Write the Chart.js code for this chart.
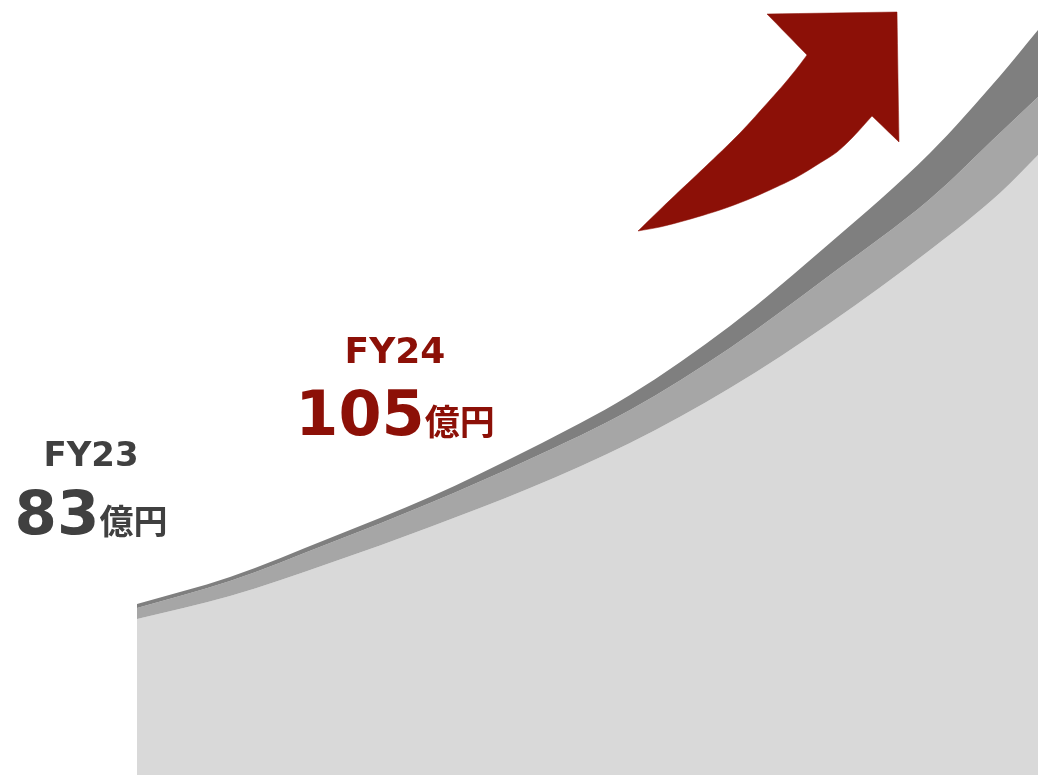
<!DOCTYPE html>
<html>
<head>
<meta charset="utf-8">
<script src="https://cdn.jsdelivr.net/npm/chart.js@4.4.1/dist/chart.umd.min.js"></script>
<style>
html,body{margin:0;padding:0;background:#ffffff;overflow:hidden}
#wrap{width:1038px;height:775px;position:relative}
canvas{display:block}
</style>
</head>
<body>
<div id="wrap"><canvas id="c" width="1038" height="775"></canvas></div>
<script>
// Horizontal sample positions of the growth curve
const curveX = [137, 230, 330, 430, 530, 630, 730, 830, 930, 1000, 1038];
// Heights of the three band edges (dark top, mid top, light top)
const darkTop  = [171, 198, 237, 278, 326, 380, 449, 532, 622, 699, 745];
const midTop   = [167, 194, 232, 272, 316, 365, 427, 500, 576, 642, 678];
const lightTop = [156, 179, 212, 248, 287, 332, 387, 452, 525, 582, 620];
// Arrow outline (corner points repeated so they stay sharp)
const arrowX = [638, 638, 670, 705, 740, 770, 785, 798, 807, 807, 767, 767, 897, 897, 899, 899, 872, 872, 853, 837, 820, 797, 770, 747, 720, 687, 660, 638];
const arrowY = [544, 544, 575, 608, 642, 675, 692, 708, 720, 720, 761, 761, 763, 763, 633, 633, 659, 659, 638, 623, 612, 598, 585, 575, 565, 555, 548, 544];
// Labels
const periods = ['FY23', 'FY24'];
const values = [83, 105];
const unit = '億円';

const pts = (xs, ys) => xs.map((x, i) => ({x: x, y: ys[i]}));

const labelStyle = [
  {cx: 91, periodBase: 466, valueBase: 534, periodSize: 34, valueSize: 61, unitSize: 34, color: '#404040'},
  {cx: 395, periodBase: 363, valueBase: 435, periodSize: 36, valueSize: 62, unitSize: 35, color: '#8c1007'}
];

const labelPlugin = {
  id: 'labels',
  afterDraw(chart) {
    const ctx = chart.ctx;
    ctx.save();
    ctx.textBaseline = 'alphabetic';
    periods.forEach((p, i) => {
      const s = labelStyle[i];
      ctx.fillStyle = s.color;
      ctx.font = 'bold ' + s.periodSize + 'px "DejaVu Sans", Verdana, sans-serif';
      ctx.textAlign = 'center';
      ctx.fillText(p, s.cx, s.periodBase);
      const vText = String(values[i]);
      ctx.font = 'bold ' + s.valueSize + 'px "DejaVu Sans", Verdana, sans-serif';
      const w1 = ctx.measureText(vText).width;
      ctx.font = 'bold ' + s.unitSize + 'px "Noto Sans CJK JP", sans-serif';
      const w2 = ctx.measureText(unit).width;
      const x0 = s.cx - (w1 + w2) / 2;
      ctx.textAlign = 'left';
      ctx.font = 'bold ' + s.valueSize + 'px "DejaVu Sans", Verdana, sans-serif';
      ctx.fillText(vText, x0, s.valueBase);
      ctx.font = 'bold ' + s.unitSize + 'px "Noto Sans CJK JP", sans-serif';
      ctx.fillText(unit, x0 + w1, s.valueBase);
    });
    ctx.restore();
  }
};

new Chart(document.getElementById('c'), {
  type: 'line',
  data: {
    datasets: [
      {label: 'dark', data: pts(curveX, darkTop), fill: '+1', backgroundColor: '#7f7f7f', borderWidth: 0, pointRadius: 0, cubicInterpolationMode: 'monotone'},
      {label: 'mid', data: pts(curveX, midTop), fill: '+1', backgroundColor: '#a6a6a6', borderWidth: 0, pointRadius: 0, cubicInterpolationMode: 'monotone'},
      {label: 'light', data: pts(curveX, lightTop), fill: 'start', backgroundColor: '#d9d9d9', borderWidth: 0, pointRadius: 0, cubicInterpolationMode: 'monotone'},
      {label: 'arrow', data: pts(arrowX, arrowY), fill: 'shape', backgroundColor: '#8c1007', borderColor: '#8c1007', borderWidth: 0.5, pointRadius: 0, tension: 0.3}
    ]
  },
  options: {
    responsive: false,
    animation: false,
    devicePixelRatio: 1,
    layout: {padding: 0},
    plugins: {legend: {display: false}, tooltip: {enabled: false}},
    scales: {
      x: {type: 'linear', min: 0, max: 1038, display: false},
      y: {type: 'linear', min: 0, max: 775, display: false}
    }
  },
  plugins: [labelPlugin]
});
</script>
</body>
</html>
